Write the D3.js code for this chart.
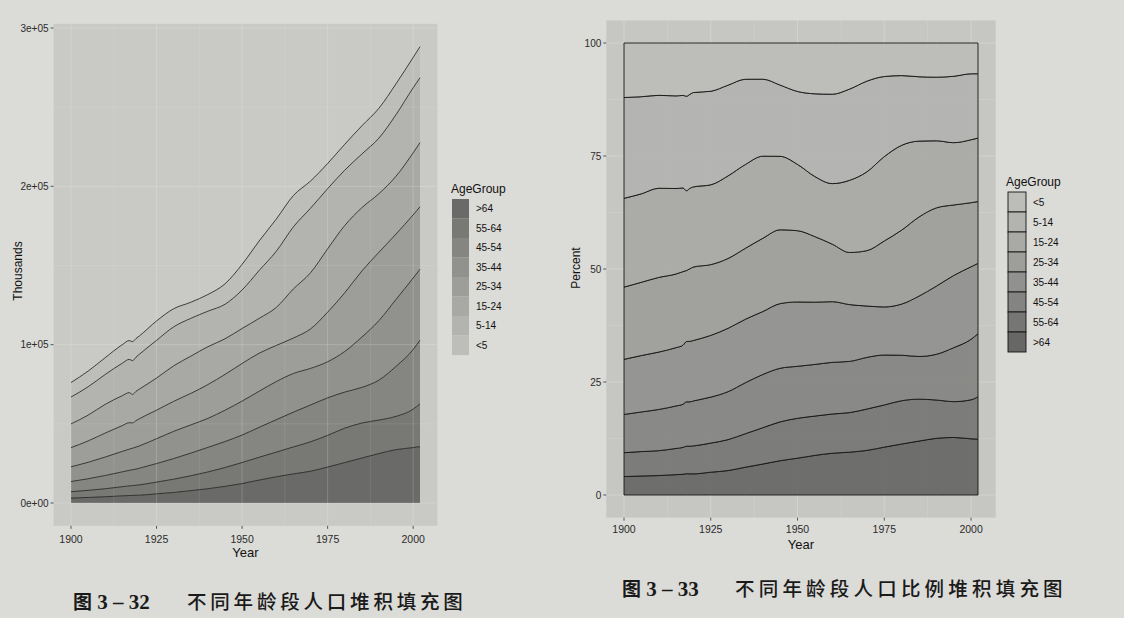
<!DOCTYPE html>
<html><head><meta charset="utf-8">
<script src="https://cdnjs.cloudflare.com/ajax/libs/d3/7.8.5/d3.min.js"></script>
<style>body{margin:0;background:#dbdbd7;} svg{display:block;}</style>
</head><body>
<svg id="c" width="1124" height="618"></svg>
<script>
// ---------------- data (thousands) ----------------
const years      = [1900,1905,1910,1915,1917,1918,1919,1920,1925,1930,1935,1940,1945,1950,1955,1960,1965,1970,1975,1980,1985,1990,1995,2000,2002];
const ageGroups  = ["<5","5-14","15-24","25-34","35-44","45-54","55-64",">64"];
const popUnder5  = [9181, 9900,10631,11700,11900,12000,11800,11573,12280,11444,10170,10542,12900,16164,18600,20321,19800,17163,15900,16348,17800,18850,19500,19176,19609];
const pop5to14   = [16966,17900,18868,20500,21000,21300,21600,22039,23800,24613,23900,22431,21800,24319,30300,35465,39200,40773,38000,34942,33900,35095,38900,41078,41024];
const pop15to24  = [14951,16300,18121,18900,19000,18000,18500,18708,20300,22422,23500,23922,22500,22099,22000,24020,31000,35467,40000,42487,40000,37013,36500,39184,40462];
const pop25to34  = [12161,13500,15152,16300,16700,16000,16700,17158,18000,18954,19900,21339,22600,23759,24000,22818,22400,24923,31300,37082,41700,43176,41300,39892,39439];
const pop35to44  = [9273,10400,11658,12900,13400,13600,13900,14121,15700,17199,17800,18333,19800,21450,22800,24081,24400,23101,22800,25635,31800,37579,42300,45149,44804];
const pop45to54  = [6437, 7300, 8370, 9400, 9800,10000,10200,10498,11700,13018,14300,15512,16400,17342,18900,20485,22000,23235,23700,22800,22500,25223,31600,37678,40218];
const pop55to64  = [4026, 4500, 5051, 5800, 6100, 6200, 6350, 6532, 7400, 8397, 9400,10572,11900,13294,14400,15572,17000,18600,20000,21703,22100,21148,21000,24275,27043];
const pop65plus  = [3099, 3500, 3950, 4500, 4700, 4800, 4870, 4933, 5800, 6634, 7800, 9019,10500,12270,14500,16560,18400,20066,22700,25549,28400,31242,33700,34992,35601];

const xTicks          = [1900,1925,1950,1975,2000];
const yTicksLeft      = [0,100000,200000,300000];
const yTickLabelsLeft = ["0e+00","1e+05","2e+05","3e+05"];
const yTicksRight     = [0,25,50,75,100];
const captionLeft     = ["图"," 3 – 32","不同年龄段人口堆积填充图"];
const captionRight    = ["图"," 3 – 33","不同年龄段人口比例堆积填充图"];

// ---------------- build table ----------------
const seriesArrays = [popUnder5,pop5to14,pop15to24,pop25to34,pop35to44,pop45to54,pop55to64,pop65plus];
const rows = years.map((y,i)=>{const r={Year:y}; ageGroups.forEach((g,k)=>r[g]=seriesArrays[k][i]); return r;});
const pctRows = rows.map(r=>{const t=d3.sum(ageGroups,g=>r[g]); const o={Year:r.Year}; ageGroups.forEach(g=>o[g]=r[g]/t*100); return o;});
const keysBottomFirst = ageGroups.slice().reverse();
const stackAbs = d3.stack().keys(keysBottomFirst)(rows);
const stackPct = d3.stack().keys(keysBottomFirst)(pctRows);

const colLeft  = {"<5":"#bdbdba","5-14":"#b3b3b0","15-24":"#a8a8a5","25-34":"#9d9d9a","35-44":"#91918e","45-54":"#858582","55-64":"#787875",">64":"#6a6a68"};
const colRight = {"<5":"#bcbcb9","5-14":"#b3b3b0","15-24":"#a9a9a6","25-34":"#9e9e9b","35-44":"#91918f","45-54":"#848482","55-64":"#767674",">64":"#676765"};

const svg = d3.select("#c");
const FONT = "'Liberation Sans', Arial, sans-serif";
const curve = d3.curveMonotoneX;
svg.append("rect").attr("width",1124).attr("height",618).attr("fill","#dbdbd7");

// ================= LEFT CHART =================
const xL = d3.scaleLinear().domain([1900,2002]).range([71,420]);
const yL = d3.scaleLinear().domain([0,300000]).range([503,28]);
const gL = svg.append("g");
const pl = {x0:xL(1894.9), x1:xL(2007.1), y0:yL(302600), y1:yL(-14400)};
gL.append("rect").attr("x",pl.x0).attr("y",pl.y0).attr("width",pl.x1-pl.x0).attr("height",pl.y1-pl.y0).attr("fill","#c9c9c6");
const areaL = d3.area().curve(curve).x(d=>xL(d.data.Year)).y0(d=>yL(d[0])).y1(d=>yL(d[1]));
gL.selectAll("path.a").data(stackAbs).join("path").attr("class","a")
  .attr("d",areaL).attr("fill",d=>colLeft[d.key]);
const gridL = gL.append("g").attr("stroke","#ffffff").attr("stroke-opacity",0.18);
[1912.5,1937.5,1962.5,1987.5].forEach(v=>gridL.append("line").attr("x1",xL(v)).attr("x2",xL(v)).attr("y1",pl.y0).attr("y2",pl.y1).attr("stroke-width",0.5));
xTicks.forEach(v=>gridL.append("line").attr("x1",xL(v)).attr("x2",xL(v)).attr("y1",pl.y0).attr("y2",pl.y1).attr("stroke-width",1));
[50000,150000,250000].forEach(v=>gridL.append("line").attr("y1",yL(v)).attr("y2",yL(v)).attr("x1",pl.x0).attr("x2",pl.x1).attr("stroke-width",0.5));
yTicksLeft.forEach(v=>gridL.append("line").attr("y1",yL(v)).attr("y2",yL(v)).attr("x1",pl.x0).attr("x2",pl.x1).attr("stroke-width",1));
const lineL = d3.line().curve(curve).x(d=>xL(d.data.Year)).y(d=>yL(d[1]));
gL.selectAll("path.l").data(stackAbs).join("path").attr("class","l")
  .attr("d",lineL).attr("fill","none").attr("stroke","#1c1c1c").attr("stroke-width",0.8);
const axL = gL.append("g").attr("font-family",FONT);
yTicksLeft.forEach((v,i)=>{
  axL.append("line").attr("x1",pl.x0-3).attr("x2",pl.x0).attr("y1",yL(v)).attr("y2",yL(v)).attr("stroke","#333").attr("stroke-width",0.8);
  axL.append("text").attr("x",pl.x0-5).attr("y",yL(v)+3.5).attr("text-anchor","end").attr("font-size",10).attr("fill","#2b2b2b").text(yTickLabelsLeft[i]);
});
xTicks.forEach(v=>{
  axL.append("line").attr("x1",xL(v)).attr("x2",xL(v)).attr("y1",pl.y1).attr("y2",pl.y1+3).attr("stroke","#333").attr("stroke-width",0.8);
  axL.append("text").attr("x",xL(v)).attr("y",543).attr("text-anchor","middle").attr("font-size",10.5).attr("fill","#2b2b2b").text(v);
});
axL.append("text").attr("x",(pl.x0+pl.x1)/2).attr("y",557).attr("text-anchor","middle").attr("font-size",13).attr("fill","#111").text("Year");
axL.append("text").attr("transform","translate(22,271) rotate(-90)").attr("text-anchor","middle").attr("font-size",12).attr("fill","#111").text("Thousands");
const lgL = gL.append("g").attr("font-family",FONT);
lgL.append("text").attr("x",451).attr("y",193).attr("font-size",12).attr("fill","#111").text("AgeGroup");
keysBottomFirst.forEach((k,i)=>{
  const y0 = 199 + i*19.5;
  lgL.append("rect").attr("x",452).attr("y",y0).attr("width",17).attr("height",19.6).attr("fill",colLeft[k]);
  lgL.append("text").attr("x",476).attr("y",y0+13.2).attr("font-size",10).attr("fill","#111").text(k);
});

// ================= RIGHT CHART =================
const xR = d3.scaleLinear().domain([1900,2002]).range([624,978]);
const yR = d3.scaleLinear().domain([0,100]).range([495,43]);
const gR = svg.append("g");
const pr = {x0:xR(1894.9), x1:xR(2007.1), y0:yR(105), y1:yR(-5)};
gR.append("rect").attr("x",pr.x0).attr("y",pr.y0).attr("width",pr.x1-pr.x0).attr("height",pr.y1-pr.y0).attr("fill","#c6c6c3");
const gridR = gR.append("g").attr("stroke","#ffffff").attr("stroke-opacity",0.22);
[1912.5,1937.5,1962.5,1987.5].forEach(v=>gridR.append("line").attr("x1",xR(v)).attr("x2",xR(v)).attr("y1",pr.y0).attr("y2",pr.y1).attr("stroke-width",0.5));
xTicks.forEach(v=>gridR.append("line").attr("x1",xR(v)).attr("x2",xR(v)).attr("y1",pr.y0).attr("y2",pr.y1).attr("stroke-width",1));
[12.5,37.5,62.5,87.5].forEach(v=>gridR.append("line").attr("y1",yR(v)).attr("y2",yR(v)).attr("x1",pr.x0).attr("x2",pr.x1).attr("stroke-width",0.5));
yTicksRight.forEach(v=>gridR.append("line").attr("y1",yR(v)).attr("y2",yR(v)).attr("x1",pr.x0).attr("x2",pr.x1).attr("stroke-width",1));
const areaR = d3.area().curve(curve).x(d=>xR(d.data.Year)).y0(d=>yR(d[0])).y1(d=>yR(d[1]));
gR.selectAll("path.a").data(stackPct).join("path").attr("class","a")
  .attr("d",areaR).attr("fill",d=>colRight[d.key]).attr("fill-opacity",0.93)
  .attr("stroke","#151515").attr("stroke-width",0.9);
const axR = gR.append("g").attr("font-family",FONT);
yTicksRight.forEach(v=>{
  axR.append("line").attr("x1",pr.x0-3).attr("x2",pr.x0).attr("y1",yR(v)).attr("y2",yR(v)).attr("stroke","#333").attr("stroke-width",0.8);
  axR.append("text").attr("x",pr.x0-5).attr("y",yR(v)+3.5).attr("text-anchor","end").attr("font-size",10).attr("fill","#2b2b2b").text(v);
});
xTicks.forEach(v=>{
  axR.append("line").attr("x1",xR(v)).attr("x2",xR(v)).attr("y1",pr.y1).attr("y2",pr.y1+3).attr("stroke","#333").attr("stroke-width",0.8);
  axR.append("text").attr("x",xR(v)).attr("y",533).attr("text-anchor","middle").attr("font-size",10.5).attr("fill","#2b2b2b").text(v);
});
axR.append("text").attr("x",(pr.x0+pr.x1)/2).attr("y",549).attr("text-anchor","middle").attr("font-size",13).attr("fill","#111").text("Year");
axR.append("text").attr("transform","translate(580,268) rotate(-90)").attr("text-anchor","middle").attr("font-size",12).attr("fill","#111").text("Percent");
const lgR = gR.append("g").attr("font-family",FONT);
lgR.append("text").attr("x",1006).attr("y",186).attr("font-size",12).attr("fill","#111").text("AgeGroup");
ageGroups.forEach((k,i)=>{
  const y0 = 192 + i*20;
  lgR.append("rect").attr("x",1008).attr("y",y0).attr("width",18).attr("height",20).attr("fill",colRight[k]).attr("stroke","#151515").attr("stroke-width",0.9);
  lgR.append("text").attr("x",1033).attr("y",y0+13.5).attr("font-size",10).attr("fill","#111").text(k);
});

// ================= CAPTIONS =================
const CJK = "'Noto Sans CJK SC', sans-serif";
const SERIF = "'Liberation Serif', 'DejaVu Serif', serif";
function caption(parts, x, xText, y, spacing){
  const t = svg.append("text").attr("x",x).attr("y",y).attr("fill","#1a1a1a");
  t.append("tspan").attr("font-family",CJK).attr("font-weight",700).attr("font-size",19).text(parts[0]);
  t.append("tspan").attr("font-family",SERIF).attr("font-weight",700).attr("font-size",21).attr("xml:space","preserve").style("white-space","pre").text(parts[1]);
  svg.append("text").attr("x",xText).attr("y",y).attr("fill","#1a1a1a").attr("font-family",CJK).attr("font-weight",500)
    .attr("font-size",19.5).attr("letter-spacing",spacing).text(parts[2]);
}
caption(captionLeft, 73, 187, 609, 3.8);
caption(captionRight, 622, 735, 596, 4.2);
</script>
</body></html>
